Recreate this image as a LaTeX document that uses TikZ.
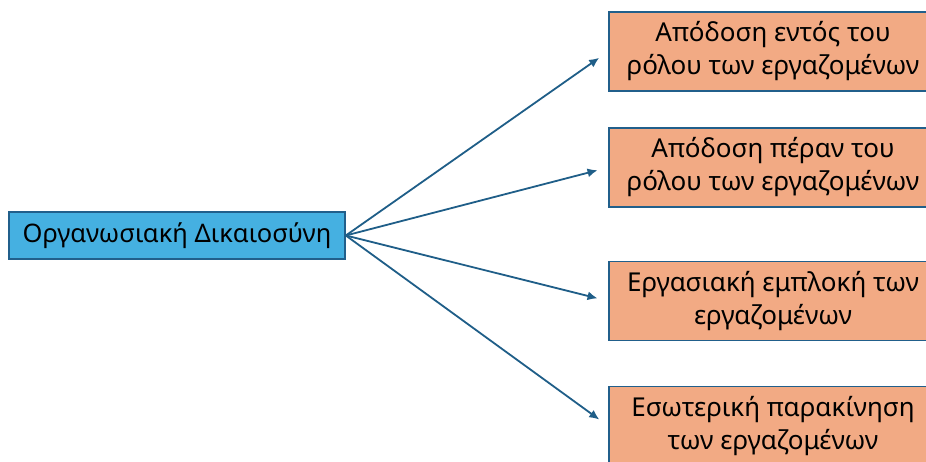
\documentclass[tikz,border=0pt]{standalone}
\usepackage{fontspec}
\setmainfont{Noto Sans}
\usetikzlibrary{positioning,arrows.meta}
\definecolor{justblue}{HTML}{45B0E1}
\definecolor{justedge}{HTML}{215F8B}
\definecolor{outorange}{HTML}{F2AA84}
\definecolor{arrowblue}{HTML}{1F5E88}

\begin{document}
\begin{tikzpicture}[x=1pt,y=-1pt, node distance = 100pt,on grid,
    >={Latex[length=10pt,width=9pt]},
    mainbox/.style={draw=justedge,line width=1.6pt,fill=justblue,minimum width=336pt,minimum height=47pt,inner sep=0pt,font=\fontsize{25.5}{30}\selectfont},
    outbox/.style={draw=justedge,line width=1.6pt,fill=outorange,minimum width=328pt,minimum height=79pt,inner sep=0pt,align=center,font=\fontsize{26}{33}\selectfont}]
    \useasboundingbox (0,0) rectangle (926,462);
    \clip (0,0) rectangle (926,462);

    \node[mainbox] (org) at (177,235.5) {Οργανωσιακή Δικαιοσύνη};
    \node[outbox] (p2) [above right=68pt and 596pt of org] {Απόδοση πέραν του\\ρόλου των εργαζομένων};
    \node[outbox] (p1) [above=116pt of p2] {Απόδοση εντός του\\ρόλου των εργαζομένων};
    \node[outbox] (p3) [below=133.5pt of p2] {Εργασιακή εμπλοκή των\\εργαζομένων};
    \node[outbox] (p4) [below=125pt of p3] {Εσωτερική παρακίνηση\\των εργαζομένων};

    \foreach \p in {p1,p2,p3,p4}
        \draw[->,arrowblue,line width=1.8pt,shorten >=11pt] (org.east) -- (\p.west);
\end{tikzpicture}
\end{document}
